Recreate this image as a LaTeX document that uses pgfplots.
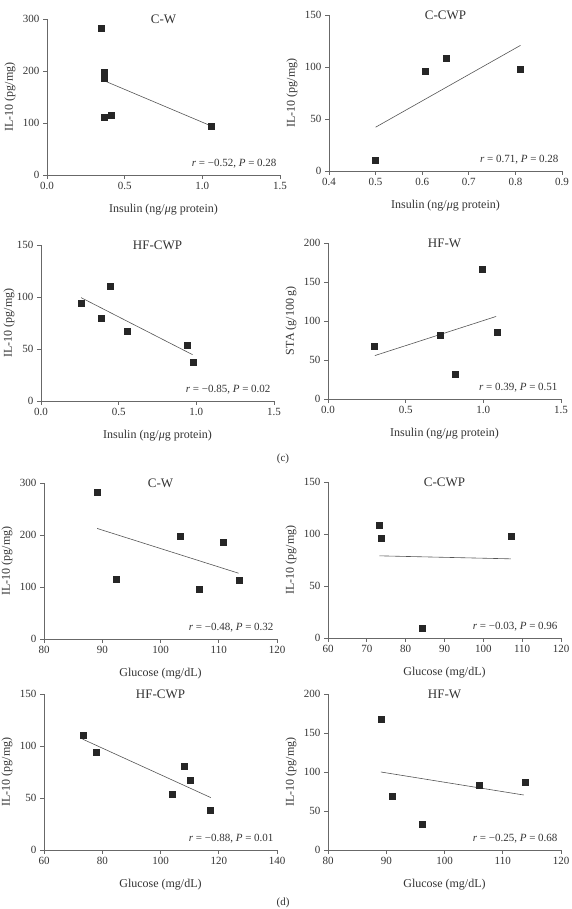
\documentclass[border=0pt]{standalone}
\usepackage{fontspec}
\setmainfont{Liberation Serif}
\usepackage{pgfplots}
\pgfplotsset{compat=1.18}

\definecolor{axisgray}{HTML}{686868}
\definecolor{markgray}{HTML}{262626}
\definecolor{fitgray}{HTML}{555555}
\definecolor{txtgray}{HTML}{333333}

\pgfplotsset{
  corrpanel/.style={
    scale only axis, width=233pt, height=156pt,
    axis x line*=bottom, axis y line*=left,
    axis line style={-, draw=axisgray, line width=0.7pt},
    major tick style={draw=axisgray, line width=0.7pt},
    tick align=outside, major tick length=4pt,
    tick label style={font=\fontsize{11}{13}\selectfont, text=txtgray},
    /pgf/number format/assume math mode=true,
    ylabel gap/.initial=37pt,
    every axis y label/.style={at={(rel axis cs:0,0.5)},
      xshift=-\pgfkeysvalueof{/pgfplots/ylabel gap}, rotate=90,
      anchor=center, inner sep=1pt, font=\fontsize{12}{14}\selectfont, text=txtgray},
    every axis x label/.style={at={(rel axis cs:0.5,0)}, yshift=-35pt,
      anchor=center, font=\fontsize{12}{14}\selectfont, text=txtgray},
    every axis title/.style={at={(rel axis cs:0.5,1)}, anchor=center,
      font=\fontsize{13}{15}\selectfont, text=txtgray},
    clip=false,
  },
  onedec/.style={xticklabel style={/pgf/number format/.cd, fixed, fixed zerofill, precision=1}},
  pts/.style={only marks, mark=square*, mark size=3pt,
    mark options={draw=markgray, fill=markgray}},
  fit/.style={no marks, draw=fitgray, line width=0.6pt},
}

\newcommand{\stat}[1]{\node[anchor=south east, font=\fontsize{11}{13}\selectfont,
  text=txtgray, yshift=3pt] at (rel axis cs:1,0) {#1};}

\begin{document}
\begin{tikzpicture}
\path[use as bounding box] (0pt,0pt) rectangle (572pt,909pt);

% ---------- (c) insulin ----------
\begin{axis}[corrpanel, onedec, at={(47pt,734pt)}, anchor=south west,
  xmin=0, xmax=1.5, ymin=0, ymax=300, xtick={0,0.5,1,1.5}, ytick={0,100,200,300},
  title={C-W}, xlabel={Insulin (ng/\textit{μ}g protein)}, ylabel={IL-10 (pg/mg)}]
\addplot[pts] coordinates {(0.349,282) (0.37,197) (0.37,186) (0.37,112) (0.414,115) (1.056,94)};
\addplot[fit] coordinates {(0.37,181) (1.056,94.4)};
\stat{\textit{r} = −0.52, \textit{P} = 0.28}
\end{axis}

\begin{axis}[corrpanel, onedec, at={(329pt,738pt)}, anchor=south west,
  xmin=0.4, xmax=0.9, ymin=0, ymax=150, xtick={0.4,0.5,...,0.9}, ytick={0,50,100,150},
  title={C-CWP}, xlabel={Insulin (ng/\textit{μ}g protein)}, ylabel={IL-10 (pg/mg)}]
\addplot[pts] coordinates {(0.5,10.3) (0.607,96.4) (0.651,108.3) (0.811,98.3)};
\addplot[fit] coordinates {(0.5,42.1) (0.811,120.8)};
\stat{\textit{r} = 0.71, \textit{P} = 0.28}
\end{axis}

\begin{axis}[corrpanel, onedec, ylabel gap=32pt, at={(41pt,508pt)}, anchor=south west,
  xmin=0, xmax=1.5, ymin=0, ymax=150, xtick={0,0.5,1,1.5}, ytick={0,50,100,150},
  title={HF-CWP}, xlabel={Insulin (ng/\textit{μ}g protein)}, ylabel={IL-10 (pg/mg)}]
\addplot[pts] coordinates {(0.258,93.9) (0.446,110.3) (0.39,79.7) (0.556,67.1) (0.94,53.5) (0.983,37.7)};
\addplot[fit] coordinates {(0.258,99.4) (0.976,44.5)};
\stat{\textit{r} = −0.85, \textit{P} = 0.02}
\end{axis}

\begin{axis}[corrpanel, onedec, at={(328pt,510pt)}, anchor=south west,
  xmin=0, xmax=1.5, ymin=0, ymax=200, xtick={0,0.5,1,1.5}, ytick={0,50,100,150,200},
  title={HF-W}, xlabel={Insulin (ng/\textit{μ}g protein)}, ylabel={STA (g/100\,g)}]
\addplot[pts] coordinates {(0.3,67.7) (0.724,82.2) (0.821,31.7) (0.99,166.6) (1.086,86.1)};
\addplot[fit] coordinates {(0.302,55.7) (1.082,105.8)};
\stat{\textit{r} = 0.39, \textit{P} = 0.51}
\end{axis}

\node[font=\fontsize{11}{13}\selectfont, text=txtgray] at (283pt,450pt) {(c)};

% ---------- (d) glucose ----------
\begin{axis}[corrpanel, at={(44pt,270pt)}, anchor=south west,
  xmin=80, xmax=120, ymin=0, ymax=300, xtick={80,90,...,120}, ytick={0,100,200,300},
  title={C-W}, xlabel={Glucose (mg/dL)}, ylabel={IL-10 (pg/mg)}]
\addplot[pts] coordinates {(89.18,283.2) (92.33,115) (103.35,197.2) (106.68,95) (110.8,185.6) (113.5,113)};
\addplot[fit] coordinates {(89.12,212.6) (113.4,126.5)};
\stat{\textit{r} = −0.48, \textit{P} = 0.32}
\end{axis}

\begin{axis}[corrpanel, at={(328pt,271pt)}, anchor=south west,
  xmin=60, xmax=120, ymin=0, ymax=150, xtick={60,70,...,120}, ytick={0,50,100,150},
  title={C-CWP}, xlabel={Glucose (mg/dL)}, ylabel={IL-10 (pg/mg)}]
\addplot[pts] coordinates {(73.17,108.1) (73.6,96.1) (84.27,9.7) (107.25,98.1)};
\addplot[fit] coordinates {(73.25,79) (107.1,76.1)};
\stat{\textit{r} = −0.03, \textit{P} = 0.96}
\end{axis}

\begin{axis}[corrpanel, at={(44pt,59pt)}, anchor=south west,
  xmin=60, xmax=140, ymin=0, ymax=150, xtick={60,80,...,140}, ytick={0,50,100,150},
  title={HF-CWP}, xlabel={Glucose (mg/dL)}, ylabel={IL-10 (pg/mg)}]
\addplot[pts] coordinates {(73.5,110.8) (77.8,94.4) (104.0,54) (108.0,80.3) (110.2,67.5) (117.1,38.5)};
\addplot[fit] coordinates {(73.26,106.6) (117.26,50.4)};
\stat{\textit{r} = −0.88, \textit{P} = 0.01}
\end{axis}

\begin{axis}[corrpanel, at={(328pt,59pt)}, anchor=south west,
  xmin=80, xmax=120, ymin=0, ymax=200, xtick={80,90,...,120}, ytick={0,50,100,150,200},
  title={HF-W}, xlabel={Glucose (mg/dL)}, ylabel={IL-10 (pg/mg)}]
\addplot[pts] coordinates {(89.2,167.5) (91.09,68.4) (96.17,32.9) (106.0,82.9) (113.77,86.8)};
\addplot[fit] coordinates {(89.09,100) (113.6,70.5)};
\stat{\textit{r} = −0.25, \textit{P} = 0.68}
\end{axis}

\node[font=\fontsize{11}{13}\selectfont, text=txtgray] at (283pt,6pt) {(d)};
\end{tikzpicture}
\end{document}
